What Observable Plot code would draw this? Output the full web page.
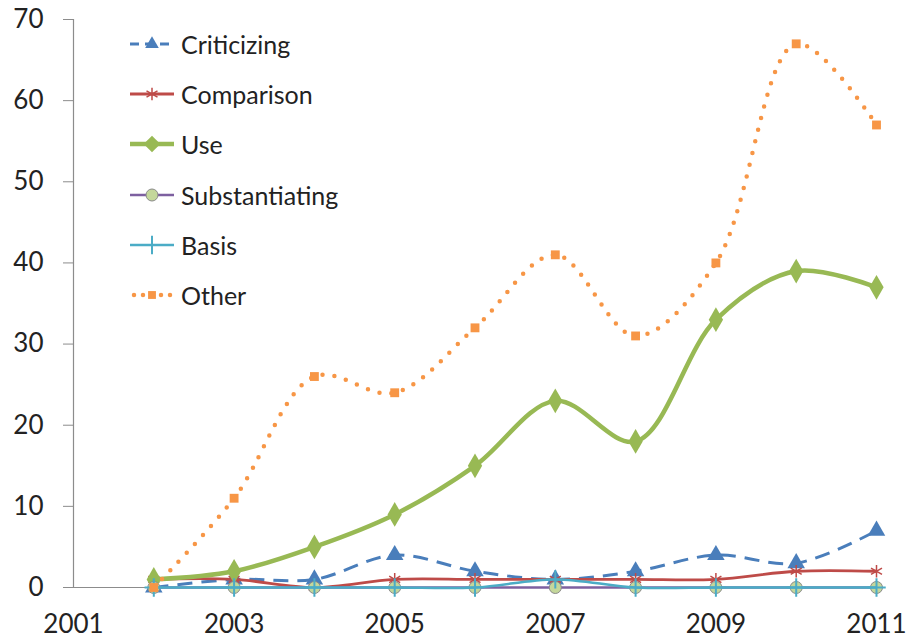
<!DOCTYPE html>
<html>
<head>
<meta charset="utf-8">
<script src="https://cdn.jsdelivr.net/npm/d3@7"></script>
<script src="https://cdn.jsdelivr.net/npm/@observablehq/plot@0.6"></script>
<style>
  html, body { margin: 0; padding: 0; background: #fff; }
  #wrap { position: relative; width: 907px; height: 643px; font-family: Lato, "Open Sans", sans-serif; }
  #legend { position: absolute; left: 128px; top: 19px; }
  .row { display: flex; align-items: center; height: 50.2px; font-size: 25px; color: #222; }
  .row svg { display: block; margin-right: 3px; }
</style>
</head>
<body>
<div id="wrap"></div>
<script>
const years = [2002, 2003, 2004, 2005, 2006, 2007, 2008, 2009, 2010, 2011];
const criticizing = [0, 1, 1, 4, 2, 1, 2, 4, 3, 7];
const comparison = [1, 1, 0, 1, 1, 1, 1, 1, 2, 2];
const use = [1, 2, 5, 9, 15, 23, 18, 33, 39, 37];
const substantiating = [0, 0, 0, 0, 0, 0, 0, 0, 0, 0];
const basis = [0, 0, 0, 0, 0, 1, 0, 0, 0, 0];
const other = [0, 11, 26, 24, 32, 41, 31, 40, 67, 57];
const seriesNames = ["Criticizing", "Comparison", "Use", "Substantiating", "Basis", "Other"];
const xTicks = [2001, 2003, 2005, 2007, 2009, 2011];
const yTicks = [0, 10, 20, 30, 40, 50, 60, 70];

const seriesValues = [criticizing, comparison, use, substantiating, basis, other];
const styles = {
  Criticizing:    {stroke: "#4A7EBB", width: 3,   dash: "15,9", cap: "butt",  symbol: "triangle", r: 6.5, fill: "#4A7EBB", mstroke: "none", mw: 0},
  Comparison:     {stroke: "#BE4B48", width: 2.8, dash: null,   cap: "butt",  symbol: "asterisk", r: 6,   fill: "none",    mstroke: "#BE4B48", mw: 1.5},
  Use:            {stroke: "#98B954", width: 4.5, dash: null,   cap: "round", symbol: "diamond",  r: 7.5, fill: "#98B954", mstroke: "none", mw: 0},
  Substantiating: {stroke: "#7D60A0", width: 2.5, dash: null,   cap: "butt",  symbol: "circle",   r: 6,   fill: "#C4D79B", mstroke: "#8A8A8A", mw: 1},
  Basis:          {stroke: "#4BACC6", width: 2.5, dash: null,   cap: "butt",  symbol: "plus",     r: 6,   fill: "none",    mstroke: "#4BACC6", mw: 2},
  Other:          {stroke: "#F79646", width: 4.5, dash: "0,12", cap: "round", symbol: "square",   r: 5,   fill: "#F79646", mstroke: "none", mw: 0}
};
const d3Symbols = {triangle: d3.symbolTriangle2, asterisk: d3.symbolAsterisk, diamond: d3.symbolDiamond2, circle: d3.symbolCircle, plus: d3.symbolPlus, square: d3.symbolSquare2};

const marks = [
  Plot.ruleY([0], {stroke: "#8c8c8c", strokeWidth: 1.2}),
  Plot.axisY({ticks: yTicks, tickSize: 10, tickPadding: 20, fontSize: 26, stroke: "#8c8c8c", color: "#222", label: null}),
  Plot.ruleX([2001], {stroke: "#8c8c8c", strokeWidth: 1.2}),
  Plot.axisX({ticks: xTicks, tickSize: 0, tickPadding: 27, fontSize: 26, color: "#222", tickFormat: d => String(d), label: null})
];
seriesNames.forEach((name, i) => {
  const s = styles[name];
  const data = years.map((y, j) => ({year: y, value: seriesValues[i][j]}));
  marks.push(Plot.line(data, {
    x: "year", y: "value", curve: "catmull-rom",
    stroke: s.stroke, strokeWidth: s.width,
    strokeDasharray: s.dash, strokeLinecap: s.cap, strokeLinejoin: "round"
  }));
  marks.push(Plot.dot(data, {
    x: "year", y: "value", symbol: () => s.symbol, r: s.r,
    fill: s.fill, stroke: s.mstroke, strokeWidth: s.mw
  }));
});

const chart = Plot.plot({
  width: 907,
  height: 643,
  marginLeft: 73,
  marginRight: 31,
  marginTop: 19,
  marginBottom: 56,
  style: {fontFamily: "Lato, 'Open Sans', sans-serif", background: "#fff", color: "#222", overflow: "visible"},
  x: {domain: [2001, 2011], axis: null},
  y: {domain: [0, 70], axis: null},
  symbol: {type: "identity"},
  marks
});
const wrap = document.getElementById("wrap");
wrap.appendChild(chart);

// Legend
const legend = document.createElement("div");
legend.id = "legend";
const ns = "http://www.w3.org/2000/svg";
seriesNames.forEach(name => {
  const s = styles[name];
  const row = document.createElement("div");
  row.className = "row";
  const sv = document.createElementNS(ns, "svg");
  sv.setAttribute("width", 50);
  sv.setAttribute("height", 20);
  const line = document.createElementNS(ns, "line");
  line.setAttribute("x1", 2); line.setAttribute("x2", 46);
  line.setAttribute("y1", 10); line.setAttribute("y2", 10);
  line.setAttribute("stroke", s.stroke);
  line.setAttribute("stroke-width", s.width);
  if (name === "Criticizing") line.setAttribute("stroke-dasharray", "9,6");
  if (name === "Other") { line.setAttribute("stroke-dasharray", "0,9"); line.setAttribute("stroke-linecap", "round"); line.setAttribute("x1", 6); }
  sv.appendChild(line);
  d3.select(sv).append("path")
    .attr("transform", "translate(24,10)")
    .attr("d", d3.symbol(d3Symbols[s.symbol], s.r * s.r * Math.PI)())
    .attr("fill", s.fill)
    .attr("stroke", s.mstroke)
    .attr("stroke-width", s.mw);
  row.appendChild(sv);
  const t = document.createElement("span");
  t.textContent = name;
  row.appendChild(t);
  legend.appendChild(row);
});
wrap.appendChild(legend);
</script>
</body>
</html>
